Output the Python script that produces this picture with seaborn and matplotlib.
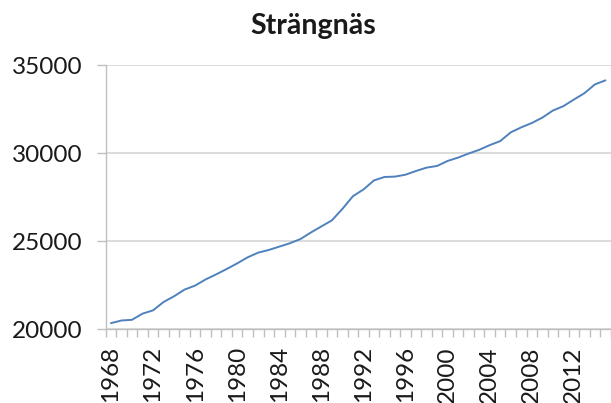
import numpy as np
import pandas as pd
import matplotlib
matplotlib.use("Agg")
import matplotlib.pyplot as plt
import seaborn as sns

# Strängnäs population per year
years = list(range(1968, 2016))
population = [
    20360, 20510, 20550, 20900, 21085, 21560, 21885, 22265, 22490, 22840,
    23125, 23430, 23750, 24095, 24360, 24510, 24700, 24890, 25125, 25500,
    25845, 26190, 26840, 27560, 27940, 28455, 28650, 28670, 28780, 28990,
    29180, 29275, 29560, 29750, 29980, 30190, 30455, 30685, 31180, 31465,
    31710, 32015, 32415, 32665, 33040, 33400, 33900, 34130,
]
label_years = list(range(1968, 2013, 4))
y_ticks = [20000, 25000, 30000, 35000]

df = pd.DataFrame({"year": years, "population": population})

sns.set_theme(style="white")
plt.rcParams["font.family"] = ["Lato", "DejaVu Sans"]

fig = plt.figure(figsize=(6.11, 4.03), dpi=100)
ax = fig.add_axes([0.173, 0.1824, 0.8265, 0.6563])

sns.lineplot(data=df, x="year", y="population", ax=ax, color="#4F81BD", linewidth=1.4)

ax.set_xlim(years[0] - 0.5, years[-1] + 0.5)
ax.set_ylim(20000, 35000)

ax.set_yticks(y_ticks)
ax.set_yticklabels([str(v) for v in y_ticks], fontsize=17.5, color="#1a1a1a")
ax.yaxis.grid(True, color="#D9D9D9", linewidth=1.3)
ax.tick_params(axis="y", length=6.5, width=1, color="#BFBFBF", pad=10.5, left=True)

# tick marks between categories, labels every 4 years
ax.set_xticks(np.arange(years[0] - 0.5, years[-1] + 1, 1))
ax.set_xticklabels([])
ax.set_xticks(label_years, minor=True)
ax.set_xticklabels([str(y) for y in label_years], minor=True, rotation=90,
                   fontsize=17.5, color="#1a1a1a")
ax.tick_params(axis="x", which="major", length=6, width=1, color="#BFBFBF", bottom=True)
ax.tick_params(axis="x", which="minor", length=0, pad=12, bottom=True)

for side in ["top", "right"]:
    ax.spines[side].set_visible(False)
for side in ["left", "bottom"]:
    ax.spines[side].set_color("#BFBFBF")
    ax.spines[side].set_linewidth(1)

ax.set_xlabel("")
ax.set_ylabel("")

fig.text(0.512, 0.935, "Strängnäs", ha="center", va="center",
         fontsize=20.5, fontweight="bold", color="#1a1a1a")

fig.savefig("out.png", dpi=100)
